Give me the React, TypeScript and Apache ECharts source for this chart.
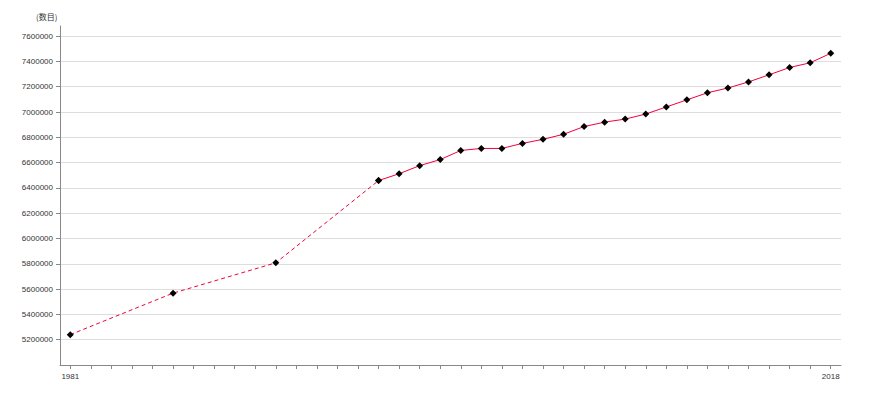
import React, { useEffect, useRef } from "react";
import * as echarts from "echarts";

const years: string[] = [];
for (let y = 1981; y <= 2018; y++) years.push(String(y));

const gapYears = [1981, 1986, 1991, 1996];
const gapValues = [5240000, 5568000, 5808000, 6458000];

const annualYears = [
  1996, 1997, 1998, 1999, 2000, 2001, 2002, 2003, 2004, 2005, 2006, 2007,
  2008, 2009, 2010, 2011, 2012, 2013, 2014, 2015, 2016, 2017, 2018,
];
const annualValues = [
  6458000, 6512000, 6576000, 6624000, 6696000, 6712000, 6712000, 6752000,
  6784000, 6824000, 6885000, 6920000, 6944000, 6984000, 7040000, 7096000,
  7152000, 7190000, 7238000, 7294000, 7352000, 7389000, 7464000,
];

const yTitle = "(数目)";

function toSeries(ys: number[], vs: number[]) {
  return years.map((y) => {
    const i = ys.indexOf(Number(y));
    return i >= 0 ? vs[i] : null;
  });
}

export default function App() {
  const ref = useRef<HTMLDivElement>(null);
  useEffect(() => {
    if (!ref.current) return;
    const chart = echarts.init(ref.current, undefined, { renderer: "svg" });
    const font = "'Liberation Sans', Arial, sans-serif";
    chart.setOption({
      animation: false,
      grid: { left: 60, right: 29, top: 26, bottom: 35, containLabel: false },
      graphic: [
        {
          type: "text",
          left: 36,
          top: 12,
          style: { text: yTitle, fontSize: 8, fill: "#333", fontFamily: "'Noto Sans CJK SC', sans-serif" },
        },
      ],
      xAxis: {
        type: "category",
        data: years,
        boundaryGap: true,
        axisLine: { lineStyle: { color: "#888", width: 1 } },
        axisTick: { show: true, alignWithLabel: true, interval: 0, length: 4, lineStyle: { color: "#888", width: 1 } },
        axisLabel: {
          interval: (i: number) => i === 0 || i === years.length - 1,
          fontSize: 8,
          color: "#333",
          fontFamily: font,
          margin: 7,
        },
        splitLine: { show: false },
      },
      yAxis: {
        type: "value",
        min: 5000000,
        max: 7680000,
        interval: 200000,
        axisLine: { show: true, lineStyle: { color: "#888", width: 1 } },
        axisTick: { show: true, length: 4, lineStyle: { color: "#888", width: 1 } },
        axisLabel: {
          fontSize: 8,
          color: "#333",
          fontFamily: font,
          margin: 7,
          showMinLabel: false,
          showMaxLabel: false,
          formatter: (v: number) => (v % 200000 === 0 && v > 5000000 ? String(v) : ""),
        },
        splitLine: {
          show: true,
          showMinLine: false,
          showMaxLine: false,
          lineStyle: { color: "#ddd", width: 1 },
        },
      },
      series: [
        {
          type: "line",
          data: toSeries(gapYears, gapValues),
          connectNulls: true,
          symbol: "diamond",
          symbolSize: 7,
          itemStyle: { color: "#000" },
          lineStyle: { color: "#f2003c", width: 1, type: [4, 3] },
          z: 2,
        },
        {
          type: "line",
          data: toSeries(annualYears, annualValues),
          connectNulls: false,
          symbol: "diamond",
          symbolSize: 7,
          itemStyle: { color: "#000" },
          lineStyle: { color: "#f2003c", width: 1 },
          z: 3,
        },
      ],
    });
    return () => chart.dispose();
  }, []);
  return <div ref={ref} style={{ width: 870, height: 400, margin: -8 }} />;
}
